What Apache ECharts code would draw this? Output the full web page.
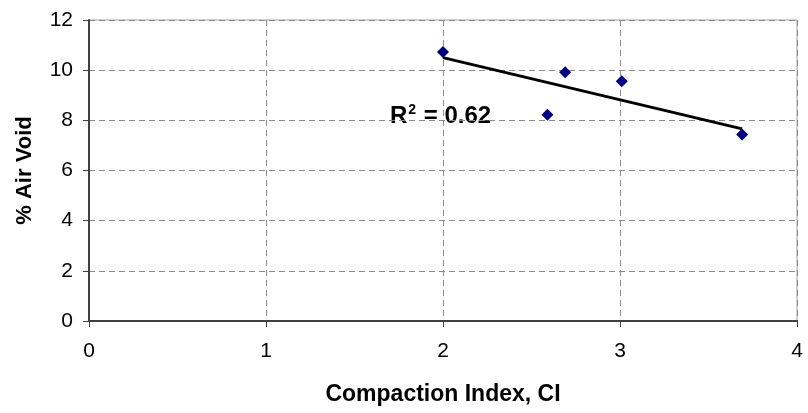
<!DOCTYPE html>
<html>
<head>
<meta charset="utf-8">
<script src="https://cdn.jsdelivr.net/npm/echarts@6/dist/echarts.min.js"></script>
<style>
  html, body { margin: 0; padding: 0; background: #fff; }
  #chart { width: 808px; height: 413px; }
</style>
</head>
<body>
<div id="chart"></div>
<script>
// measured points (compaction index vs air void)
const ciValues = [2.0, 2.69, 3.01, 2.59, 3.69];
const airVoid = [10.72, 9.92, 9.56, 8.22, 7.44];

// linear trendline end points
const trendCi = [2.0, 3.69];
const trendVoid = [10.5, 7.66];

const xTicks = [0, 1, 2, 3, 4];
const yTicks = [0, 2, 4, 6, 8, 10, 12];
const rSquared = "0.62";

const FONT = "'Liberation Sans', Arial, sans-serif";

const chart = echarts.init(document.getElementById("chart"), null, { renderer: "canvas" });

const option = {
  backgroundColor: "#fff",
  animation: false,
  grid: {
    left: 89,
    right: 11,
    top: 20,
    bottom: 92,
    show: true,
    borderColor: "#a0a0a0",
    borderWidth: 1,
  },
  xAxis: {
    type: "value",
    min: xTicks[0],
    max: xTicks[xTicks.length - 1],
    interval: 1,
    name: "Compaction Index, CI",
    nameLocation: "middle",
    nameGap: 62,
    nameTextStyle: { fontFamily: FONT, fontWeight: "bold", fontSize: 23, color: "#000" },
    axisLine: { show: true, onZero: false, lineStyle: { color: "#404040", width: 2 } },
    axisTick: { show: true, length: 6, lineStyle: { color: "#404040", width: 1 } },
    axisLabel: { fontFamily: FONT, fontSize: 21, color: "#000", margin: 20 },
    splitLine: { show: true, lineStyle: { color: "#8c8c8c", type: [6, 4], width: 1 } },
  },
  yAxis: {
    type: "value",
    min: yTicks[0],
    max: yTicks[yTicks.length - 1],
    interval: 2,
    name: "% Air Void",
    nameLocation: "middle",
    nameGap: 53,
    nameRotate: 90,
    nameTextStyle: { fontFamily: FONT, fontWeight: "bold", fontSize: 22, color: "#000" },
    axisLine: { show: true, onZero: false, lineStyle: { color: "#404040", width: 2 } },
    axisTick: { show: true, length: 6, lineStyle: { color: "#404040", width: 1 } },
    axisLabel: { fontFamily: FONT, fontSize: 21, color: "#000", margin: 16 },
    splitLine: { show: true, lineStyle: { color: "#8c8c8c", type: [6, 4], width: 1 } },
  },
  graphic: [
    {
      type: "text",
      left: 390,
      top: 103,
      style: {
        text: "{b|R}{s|2}{b| = " + rSquared + "}",
        rich: {
          b: { fontFamily: FONT, fontWeight: "bold", fontSize: 24, color: "#000", lineHeight: 26 },
          s: { fontFamily: FONT, fontWeight: "bold", fontSize: 14, color: "#000", verticalAlign: "top", lineHeight: 26, padding: [0, 1, 10, 1] },
        },
      },
    },
  ],
  series: [
    {
      name: "trend",
      type: "line",
      data: trendCi.map((x, i) => [x, trendVoid[i]]),
      symbol: "none",
      lineStyle: { color: "#000", width: 3 },
      z: 2,
    },
    {
      name: "air void",
      type: "scatter",
      data: ciValues.map((x, i) => [x, airVoid[i]]),
      symbol: "diamond",
      symbolSize: 12,
      itemStyle: { color: "#000080", opacity: 1 },
      z: 3,
    },
  ],
};

chart.setOption(option);
</script>
</body>
</html>
